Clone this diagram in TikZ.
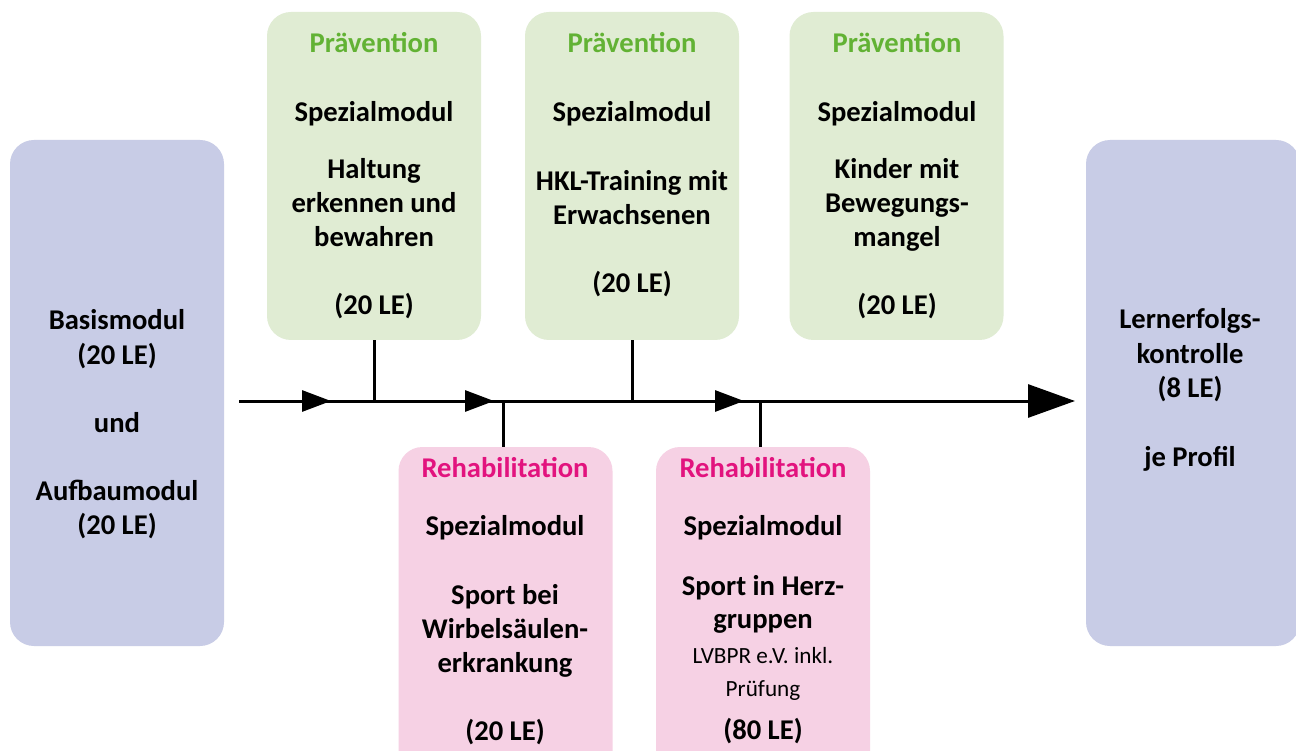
\documentclass[tikz,border=0pt]{standalone}
\usepackage{fontspec}
\setmainfont{Carlito}
\usetikzlibrary{arrows.meta}
\definecolor{bluefill}{HTML}{C8CCE6}
\definecolor{greenfill}{HTML}{E0ECD3}
\definecolor{pinkfill}{HTML}{F6D1E4}
\definecolor{greentxt}{HTML}{62B234}
\definecolor{pinktxt}{HTML}{E2137E}
\tikzset{
  box/.style={rectangle, rounded corners=24pt, draw=none, minimum width=214pt, inner sep=0pt},
  bluebox/.style={box, fill=bluefill, minimum height=506pt},
  greenbox/.style={box, fill=greenfill, minimum height=328pt},
  pinkbox/.style={box, fill=pinkfill, minimum height=330pt},
  txt/.style={anchor=base, inner sep=0pt, font=\fontsize{28.6}{34}\selectfont\bfseries},
  small/.style={anchor=base, inner sep=0pt, font=\fontsize{23.2}{28}\selectfont},
  gtitle/.style={txt, text=greentxt},
  ptitle/.style={txt, text=pinktxt},
  conn/.style={line width=3pt, black},
  midarrow/.style={conn, -{Triangle[length=29pt,width=21pt]}},
}
\begin{document}
\begin{tikzpicture}[x=1pt,y=-1pt]
\clip (0,0) rectangle (1296,751);
\fill[white] (0,0) rectangle (1296,751);
% boxes
\node[bluebox] (basis) at (117,393) {};
\node[bluebox] (lern) at (1193,393) {};
\node[greenbox] (g1) at (374,176) {};
\node[greenbox] (g2) at (632,176) {};
\node[greenbox] (g3) at (896.5,176) {};
\node[pinkbox] (p1) at (505.5,612) {};
\node[pinkbox] (p2) at (763,612) {};
% main line
\coordinate (s) at (239,401);
\coordinate (a1) at (331,401);
\coordinate (a2) at (494,401);
\coordinate (a3) at (744,401);
\coordinate (e) at (1075,401);
\draw[conn, -{Triangle[length=47pt,width=33pt]}] (s) -- (e);
\draw[midarrow] (s) -- (a1);
\draw[midarrow] (s) -- (a2);
\draw[midarrow] (s) -- (a3);
% ticks
\draw[conn] (g1.south) -- (g1.south |- s);
\draw[conn] (g2.south) -- (g2.south |- s);
\draw[conn] ([xshift=-2.5pt]p1.north) -- ([xshift=-2.5pt]p1.north |- s);
\draw[conn] ([xshift=-3pt]p2.north) -- ([xshift=-3pt]p2.north |- s);
% left box text
\node[txt] (b1) at (117,330) {Basismodul};
\node[txt] (b2) at (117,364) {(20 LE)};
\node[txt] (b3) at (117,432) {und};
\node[txt] (b4) at (117,500) {Aufbaumodul};
\node[txt] (b5) at (117,534) {(20 LE)};
% right box text
\node[txt] (r1) at (1190,329) {Lernerfolgs-};
\node[txt] (r2) at (1190,363) {kontrolle};
\node[txt] (r3) at (1190,397) {(8 LE)};
\node[txt] (r4) at (1190,466) {je Profil};
% green 1
\node[gtitle] (g1a) at (374,53) {Prävention};
\node[txt] (g1b) at (374,122) {Spezialmodul};
\node[txt] (g1c) at (374,179) {Haltung};
\node[txt] (g1d) at (374,213) {erkennen und};
\node[txt] (g1e) at (374,247) {bewahren};
\node[txt] (g1f) at (374,315) {(20 LE)};
% green 2
\node[gtitle] (g2a) at (632,53) {Prävention};
\node[txt] (g2b) at (632,122) {Spezialmodul};
\node[txt] (g2c) at (632,191) {HKL-Training mit};
\node[txt] (g2d) at (632,225) {Erwachsenen};
\node[txt] (g2e) at (632,293) {(20 LE)};
% green 3
\node[gtitle] (g3a) at (897,53) {Prävention};
\node[txt] (g3b) at (897,122) {Spezialmodul};
\node[txt] (g3c) at (897,179) {Kinder mit};
\node[txt] (g3d) at (897,213) {Bewegungs-};
\node[txt] (g3e) at (897,247) {mangel};
\node[txt] (g3f) at (897,315) {(20 LE)};
% pink 1
\node[ptitle] (p1a) at (505,477) {Rehabilitation};
\node[txt] (p1b) at (505,535) {Spezialmodul};
\node[txt] (p1c) at (505,604) {Sport bei};
\node[txt] (p1d) at (505,638) {Wirbelsäulen-};
\node[txt] (p1e) at (505,672) {erkrankung};
\node[txt] (p1f) at (505,740) {(20 LE)};
% pink 2
\node[ptitle] (p2a) at (763,477) {Rehabilitation};
\node[txt] (p2b) at (763,535) {Spezialmodul};
\node[txt] (p2c) at (763,595) {Sport in Herz-};
\node[txt] (p2d) at (763,628) {gruppen};
\node[small] (p2e) at (763,663) {LVBPR e.V. inkl.};
\node[small] (p2f) at (763,696) {Prüfung};
\node[txt] (p2g) at (763,739) {(80 LE)};
\end{tikzpicture}
\end{document}
